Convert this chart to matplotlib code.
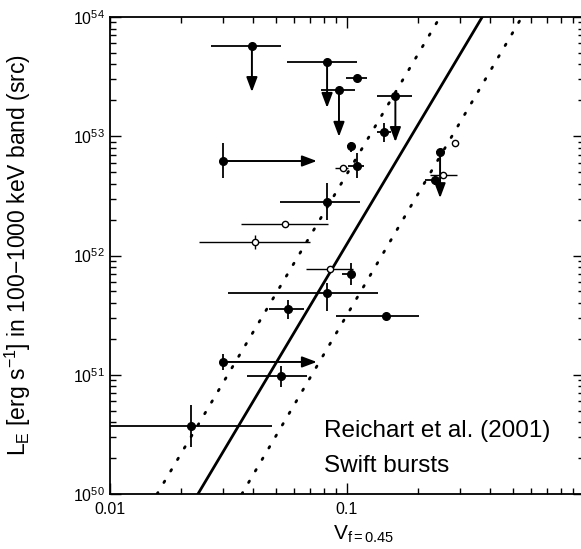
import numpy as np
import matplotlib
matplotlib.use('Agg')
import matplotlib.pyplot as plt
from matplotlib.ticker import LogLocator, FixedLocator, FixedFormatter, NullFormatter

plt.rcParams['font.family'] = ['Liberation Sans', 'DejaVu Sans']
plt.rcParams['mathtext.fontset'] = 'custom'
plt.rcParams['mathtext.rm'] = 'Liberation Sans'
plt.rcParams['mathtext.it'] = 'Liberation Sans:italic'
plt.rcParams['mathtext.bf'] = 'Liberation Sans:bold'

# detections (filled points)
det_v = [0.110, 0.143, 0.104, 0.110, 0.0824, 0.104, 0.0824, 0.0564, 0.146, 0.0527, 0.022, 0.235]
det_vlo = [0.099, 0.134, 0.100, 0.101, 0.052, 0.0953, 0.0315, 0.0469, 0.090, 0.0379, 0.0095, 0.213]
det_vhi = [0.121, 0.153, 0.108, 0.118, 0.1135, 0.106, 0.135, 0.0659, 0.201, 0.0677, 0.0483, 0.247]
det_L = [3.1e53, 1.09e53, 8.3e52, 5.6e52, 2.8e52, 7.0e51, 4.85e51, 3.56e51, 3.1e51, 9.8e50, 3.7e50, 4.3e52]
det_Llo = [3.1e53, 8.95e52, 7.4e52, 4.47e52, 1.99e52, 5.66e51, 3.43e51, 2.93e51, 3.1e51, 7.9e50, 2.48e50, 3.9e52]
det_Lhi = [3.1e53, 1.29e53, 8.95e52, 7.2e52, 4.06e52, 8.65e51, 5.87e51, 4.24e51, 3.1e51, 1.18e51, 5.57e50, 4.7e52]

# open points
open_v = [0.0962, 0.0547, 0.0409, 0.0848, 0.286, 0.254]
open_vlo = [0.0889, 0.0357, 0.0238, 0.0671, 0.286, 0.224]
open_vhi = [0.101, 0.0832, 0.0698, 0.106, 0.286, 0.291]
open_L = [5.4e52, 1.84e52, 1.30e52, 7.7e51, 8.8e52, 4.7e52]
open_Llo = [5.4e52, 1.84e52, 1.13e52, 7.7e51, 8.8e52, 4.7e52]
open_Lhi = [5.4e52, 1.84e52, 1.49e52, 7.7e51, 8.8e52, 4.7e52]

# upper limits in L (arrow down)
ul_v = [0.0397, 0.0824, 0.0925, 0.160, 0.247]
ul_vlo = [0.0267, 0.0558, 0.0776, 0.134, 0.237]
ul_vhi = [0.0527, 0.110, 0.108, 0.188, 0.258]
ul_L = [5.7e53, 4.2e53, 2.44e53, 2.18e53, 7.4e52]
ul_Lend = [2.35e53, 1.73e53, 9.9e52, 8.95e52, 3.03e52]

# lower limits in V (arrow right)
ll_v = [0.030, 0.030]
ll_vend = [0.0746, 0.0746]
ll_L = [6.2e52, 1.28e51]
ll_Llo = [4.47e52, 1.10e51]
ll_Lhi = [8.8e52, 1.49e51]

# Reichart et al. (2001) relation and its scatter
rel_L = [1e50, 1e54]
rel_v = [0.0235, 0.372]
rel_lo_v = [0.0158, 0.247]
rel_hi_v = [0.036, 0.547]


def asym(c, lo, hi):
    c = np.array(c)
    return [c - np.array(lo), np.array(hi) - c]


arrow_kw = dict(arrowstyle='-|>,head_length=0.8,head_width=0.3',
                color='k', lw=1.4, shrinkA=0, shrinkB=0, mutation_scale=11)

fig = plt.figure(figsize=(5.81, 5.49), dpi=100)
ax = fig.add_axes([110 / 581, 1 - 494 / 549, 474 / 581, 477 / 549])

ax.plot(rel_v, rel_L, color='k', lw=2.0)
ax.plot(rel_lo_v, rel_L, color='k', lw=2.0, ls=(0, (0.6, 4.2)), dash_capstyle='round')
ax.plot(rel_hi_v, rel_L, color='k', lw=2.0, ls=(0, (0.6, 4.2)), dash_capstyle='round')

ax.errorbar(det_v, det_L, xerr=asym(det_v, det_vlo, det_vhi),
            yerr=asym(det_L, det_Llo, det_Lhi), fmt='o', color='k',
            ms=5.5, elinewidth=1.3, capsize=0)
ax.errorbar(open_v, open_L, xerr=asym(open_v, open_vlo, open_vhi),
            yerr=asym(open_L, open_Llo, open_Lhi), fmt='o', color='k',
            mfc='white', ms=4.5, mew=1.0, elinewidth=1.0, capsize=0)

ax.errorbar(ul_v, ul_L, xerr=asym(ul_v, ul_vlo, ul_vhi), fmt='o', color='k',
            ms=5.5, elinewidth=1.3, capsize=0)
for v, L0, L1 in zip(ul_v, ul_L, ul_Lend):
    ax.annotate('', xy=(v, L1), xytext=(v, L0), arrowprops=arrow_kw)

ax.errorbar(ll_v, ll_L, yerr=asym(ll_L, ll_Llo, ll_Lhi), fmt='o', color='k',
            ms=5.5, elinewidth=1.3, capsize=0)
for v0, v1, L in zip(ll_v, ll_vend, ll_L):
    ax.annotate('', xy=(v1, L), xytext=(v0, L), arrowprops=arrow_kw)

ax.set_xscale('log')
ax.set_yscale('log')
ax.set_xlim(0.01, 1)
ax.set_ylim(1e50, 1e54)

ax.xaxis.set_major_locator(FixedLocator([0.01, 0.1, 1]))
ax.xaxis.set_major_formatter(FixedFormatter(['0.01', '0.1', '']))
ax.xaxis.set_minor_locator(LogLocator(base=10, subs=np.arange(2, 10)))
ax.xaxis.set_minor_formatter(NullFormatter())
ax.yaxis.set_major_locator(LogLocator(base=10, numticks=10))
ax.yaxis.set_minor_locator(LogLocator(base=10, subs=np.arange(2, 10), numticks=10))
ax.yaxis.set_minor_formatter(NullFormatter())

ax.tick_params(which='both', direction='in', top=True, right=True, labelsize=11.5, width=1.0)
ax.tick_params(which='major', length=8)
ax.tick_params(which='minor', length=4)
ax.tick_params(axis='x', which='major', pad=6)
for s in ax.spines.values():
    s.set_linewidth(1.3)

ax.set_xlabel('V$_{\\mathregular{f=0.45}}$', fontsize=15)
ax.xaxis.set_label_coords(0.535, -0.062)
ax.set_ylabel('L$_{\\mathregular{E}}$ [erg s$^{\\mathregular{-1}}$] in 100$-$1000 keV band (src)',
              fontsize=16.5)
ax.yaxis.set_label_coords(-0.163, 0.5)

ax.text(0.451, 0.119, 'Reichart et al. (2001)', transform=ax.transAxes,
        fontsize=17.5, va='baseline')
ax.text(0.451, 0.046, 'Swift bursts', transform=ax.transAxes,
        fontsize=17.5, va='baseline')

fig.savefig('out.png', dpi=100)
